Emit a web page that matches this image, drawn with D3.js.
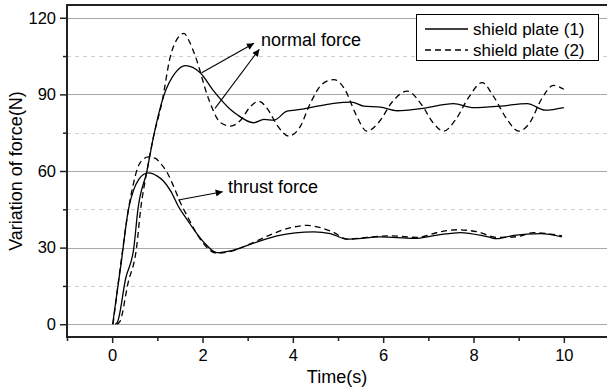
<!DOCTYPE html>
<head>
  <title>Variation of force</title>
  <script src="https://d3js.org/d3.v7.min.js"></script>
  <style>
  body {margin: 0; background: white;}
  text {font-family: "Liberation Sans", Arial, sans-serif; fill: #000;}
  .grid-major {stroke: #a8a8a8; stroke-width: 1px;}
  .grid-minor {stroke: #d0d0d0; stroke-width: 1px; stroke-dasharray: 4,4;}
  .frame {stroke: #222; stroke-width: 2px;}
  .curve {fill: none; stroke: #000; stroke-width: 1.3px;}
  .dash {stroke-dasharray: 6,4;}
  </style>
</head>
<body>
  <svg id="chart" width="607" height="389"></svg>
  <script>
  // normal force, shield plate (1)
  var normal1T = [0.07, 0.12, 0.3, 0.48, 0.57, 0.77, 0.91, 1.14, 1.4, 1.62, 1.95, 2.25, 2.62, 2.77, 3.13, 3.36, 3.58, 3.87, 4.17, 4.46, 4.9, 5.3, 5.57, 5.94, 6.31, 6.83, 7.56, 8.0, 8.6, 9.19, 9.59, 10.0];
  var normal1V = [0, 1, 18, 30, 45, 60, 73, 89.3, 98.5, 101.3, 98.5, 91.3, 84.1, 82, 78.9, 80.2, 79.9, 83.4, 84.1, 85.1, 86.5, 87, 85.4, 85, 83.6, 84.4, 86.4, 84.8, 85.4, 86.4, 83.8, 84.8];
  // normal force, shield plate (2)
  var normal2T = [0.1, 0.17, 0.35, 0.54, 0.63, 0.77, 0.91, 1.1, 1.29, 1.45, 1.59, 1.7, 1.84, 2.14, 2.4, 2.62, 2.85, 3.05, 3.25, 3.45, 3.65, 3.91, 4.15, 4.4, 4.65, 4.91, 5.15, 5.4, 5.64, 5.9, 6.2, 6.53, 6.85, 7.1, 7.34, 7.6, 7.9, 8.19, 8.45, 8.75, 9.0, 9.25, 9.5, 9.77, 10.0];
  var normal2V = [0, 1, 16, 30, 45, 60, 73, 86.7, 105, 112, 113.9, 111, 105, 88, 78.9, 77.6, 80, 85, 87.3, 84, 78, 73.7, 77, 87, 94, 95.8, 92, 82, 75.6, 79, 87, 91.3, 86, 79, 75.6, 80, 89, 94.6, 89, 80, 75.6, 79, 88, 93.5, 92];
  // thrust force, shield plate (1)
  var thrust1T = [0.01, 0.2, 0.36, 0.48, 0.59, 0.7, 0.81, 1.0, 1.14, 1.3, 1.47, 1.66, 1.81, 2.07, 2.32, 2.62, 3.06, 3.65, 4.46, 4.83, 5.2, 5.94, 6.68, 7.2, 7.71, 8.3, 8.52, 8.89, 9.48, 9.96];
  var thrust1V = [0, 24, 45, 52.8, 56.7, 58.7, 59.3, 58, 56, 52, 46, 41, 37, 31.3, 28, 28.7, 31.3, 34.6, 36.2, 35.5, 33.3, 34.2, 33.6, 34.9, 35.9, 34.3, 33.5, 34.8, 35.5, 34.2];
  // thrust force, shield plate (2)
  var thrust2T = [0.02, 0.2, 0.37, 0.47, 0.57, 0.68, 0.8, 0.95, 1.07, 1.22, 1.36, 1.5, 1.66, 1.95, 2.14, 2.32, 2.62, 3.06, 3.5, 3.95, 4.32, 4.61, 4.91, 5.2, 5.64, 6.16, 6.75, 7.27, 7.64, 8.08, 8.52, 8.97, 9.33, 9.63, 9.96];
  var thrust2V = [0, 25, 46, 55, 61.5, 64.5, 65.5, 65, 63, 59.3, 54, 48, 42.4, 33.3, 29.3, 27.8, 28.5, 31.5, 35, 37.8, 38.7, 37.8, 35.9, 33.3, 34, 34.6, 34, 36.2, 37, 36.2, 34, 34.3, 35.9, 35.5, 34.6];

  var xTicks = [0, 2, 4, 6, 8, 10];
  var xMinor = [-1, 1, 3, 5, 7, 9, 11];
  var yTicks = [0, 30, 60, 90, 120];
  var yMinor = [15, 45, 75, 105];
  var legendLabels = ["shield plate (1)", "shield plate (2)"];

  var svg = d3.select("#chart");
  var x = d3.scaleLinear().domain([-1, 11]).range([67, 609]);
  var y = d3.scaleLinear().domain([-5, 125]).range([337, 5]);
  var plotLeft = 67, plotRight = 607, plotTop = 5, plotBottom = 337;

  // grid lines
  svg.selectAll("line.grid-minor").data(yMinor).enter().append("line")
    .attr("class", "grid-minor")
    .attr("x1", plotLeft).attr("x2", plotRight)
    .attr("y1", function(d) { return Math.round(y(d)) + 0.5; })
    .attr("y2", function(d) { return Math.round(y(d)) + 0.5; });
  svg.selectAll("line.grid-major").data(yTicks).enter().append("line")
    .attr("class", "grid-major")
    .attr("x1", plotLeft).attr("x2", plotRight)
    .attr("y1", function(d) { return Math.round(y(d)) + 0.5; })
    .attr("y2", function(d) { return Math.round(y(d)) + 0.5; });

  // curves
  var line = d3.line()
    .x(function(d) { return x(d[0]); })
    .y(function(d) { return y(d[1]); })
    .curve(d3.curveMonotoneX);
  function pairs(ts, vs) { return ts.map(function(t, i) { return [t, vs[i]]; }); }

  svg.append("path").attr("class", "curve").attr("d", line(pairs(normal1T, normal1V)));
  svg.append("path").attr("class", "curve dash").attr("d", line(pairs(normal2T, normal2V)));
  svg.append("path").attr("class", "curve").attr("d", line(pairs(thrust1T, thrust1V)));
  svg.append("path").attr("class", "curve dash").attr("d", line(pairs(thrust2T, thrust2V)));

  // axes
  var yAxis = d3.axisLeft(y).tickValues(yTicks).tickSize(7).tickPadding(4);
  var gy = svg.append("g").attr("transform", "translate(" + plotLeft + ",0)").call(yAxis);
  var yMinorAxis = d3.axisLeft(y).tickValues(yMinor).tickSize(4).tickFormat("");
  var gy2 = svg.append("g").attr("transform", "translate(" + plotLeft + ",0)").call(yMinorAxis);
  var xAxis = d3.axisBottom(x).tickValues(xTicks).tickSize(6).tickPadding(6);
  var gx = svg.append("g").attr("transform", "translate(0," + plotBottom + ")").call(xAxis);
  var xMinorAxis = d3.axisBottom(x).tickValues(xMinor).tickSize(4).tickFormat("");
  var gx2 = svg.append("g").attr("transform", "translate(0," + plotBottom + ")").call(xMinorAxis);
  [gy, gy2, gx, gx2].forEach(function(g) {
    g.select(".domain").remove();
    g.selectAll(".tick line").attr("stroke", "#222").attr("stroke-width", 1.5);
    g.selectAll("text").style("font-size", "16.5px").attr("fill", "#000");
  });

  // frame
  svg.append("line").attr("class", "frame").attr("x1", plotLeft).attr("x2", plotRight).attr("y1", plotTop).attr("y2", plotTop);
  svg.append("line").attr("class", "frame").attr("x1", plotLeft).attr("x2", plotLeft).attr("y1", plotTop - 1).attr("y2", plotBottom + 1);
  svg.append("line").attr("class", "frame").attr("x1", plotLeft).attr("x2", plotRight).attr("y1", plotBottom).attr("y2", plotBottom);

  // axis titles
  svg.append("text")
    .attr("x", (plotLeft + plotRight) / 2).attr("y", 383)
    .attr("text-anchor", "middle").style("font-size", "18px")
    .text("Time(s)");
  svg.append("text")
    .attr("transform", "translate(22," + (plotTop + plotBottom) / 2 + ") rotate(-90)")
    .attr("text-anchor", "middle").style("font-size", "18px")
    .text("Variation of force(N)");

  // annotations
  var defs = svg.append("defs");
  defs.append("marker")
    .attr("id", "arrow").attr("viewBox", "0 0 10 10")
    .attr("refX", 10).attr("refY", 5)
    .attr("markerWidth", 9).attr("markerHeight", 7)
    .attr("markerUnits", "userSpaceOnUse")
    .attr("orient", "auto")
    .append("path").attr("d", "M0,0L10,5L0,10Z").attr("fill", "#000");

  var arrows = [
    [201.7, 72.7, 254, 43.3],
    [215, 108.3, 259.3, 49.3],
    [178.3, 200, 222.7, 191.7]
  ];
  svg.selectAll("line.arrow").data(arrows).enter().append("line")
    .attr("class", "arrow")
    .attr("x1", function(d) { return d[0]; }).attr("y1", function(d) { return d[1]; })
    .attr("x2", function(d) { return d[2]; }).attr("y2", function(d) { return d[3]; })
    .attr("stroke", "#000").attr("stroke-width", 1.1)
    .attr("marker-end", "url(#arrow)");

  svg.append("text").attr("x", 261).attr("y", 46).style("font-size", "18px").text("normal force");
  svg.append("text").attr("x", 228).attr("y", 193).style("font-size", "18px").text("thrust force");

  // legend
  var legend = svg.append("g");
  legend.append("rect")
    .attr("x", 416.5).attr("y", 14.5).attr("width", 182).attr("height", 46)
    .attr("fill", "white").attr("stroke", "#000").attr("stroke-width", 1);
  legendLabels.forEach(function(label, i) {
    var ly = 29 + i * 21;
    legend.append("line")
      .attr("x1", 425).attr("x2", 468).attr("y1", ly).attr("y2", ly)
      .attr("stroke", "#000").attr("stroke-width", 1.3)
      .attr("stroke-dasharray", i == 1 ? "6,4" : null);
    legend.append("text")
      .attr("x", 473).attr("y", ly + 6)
      .style("font-size", "17px")
      .text(label);
  });
  </script>
</body>
